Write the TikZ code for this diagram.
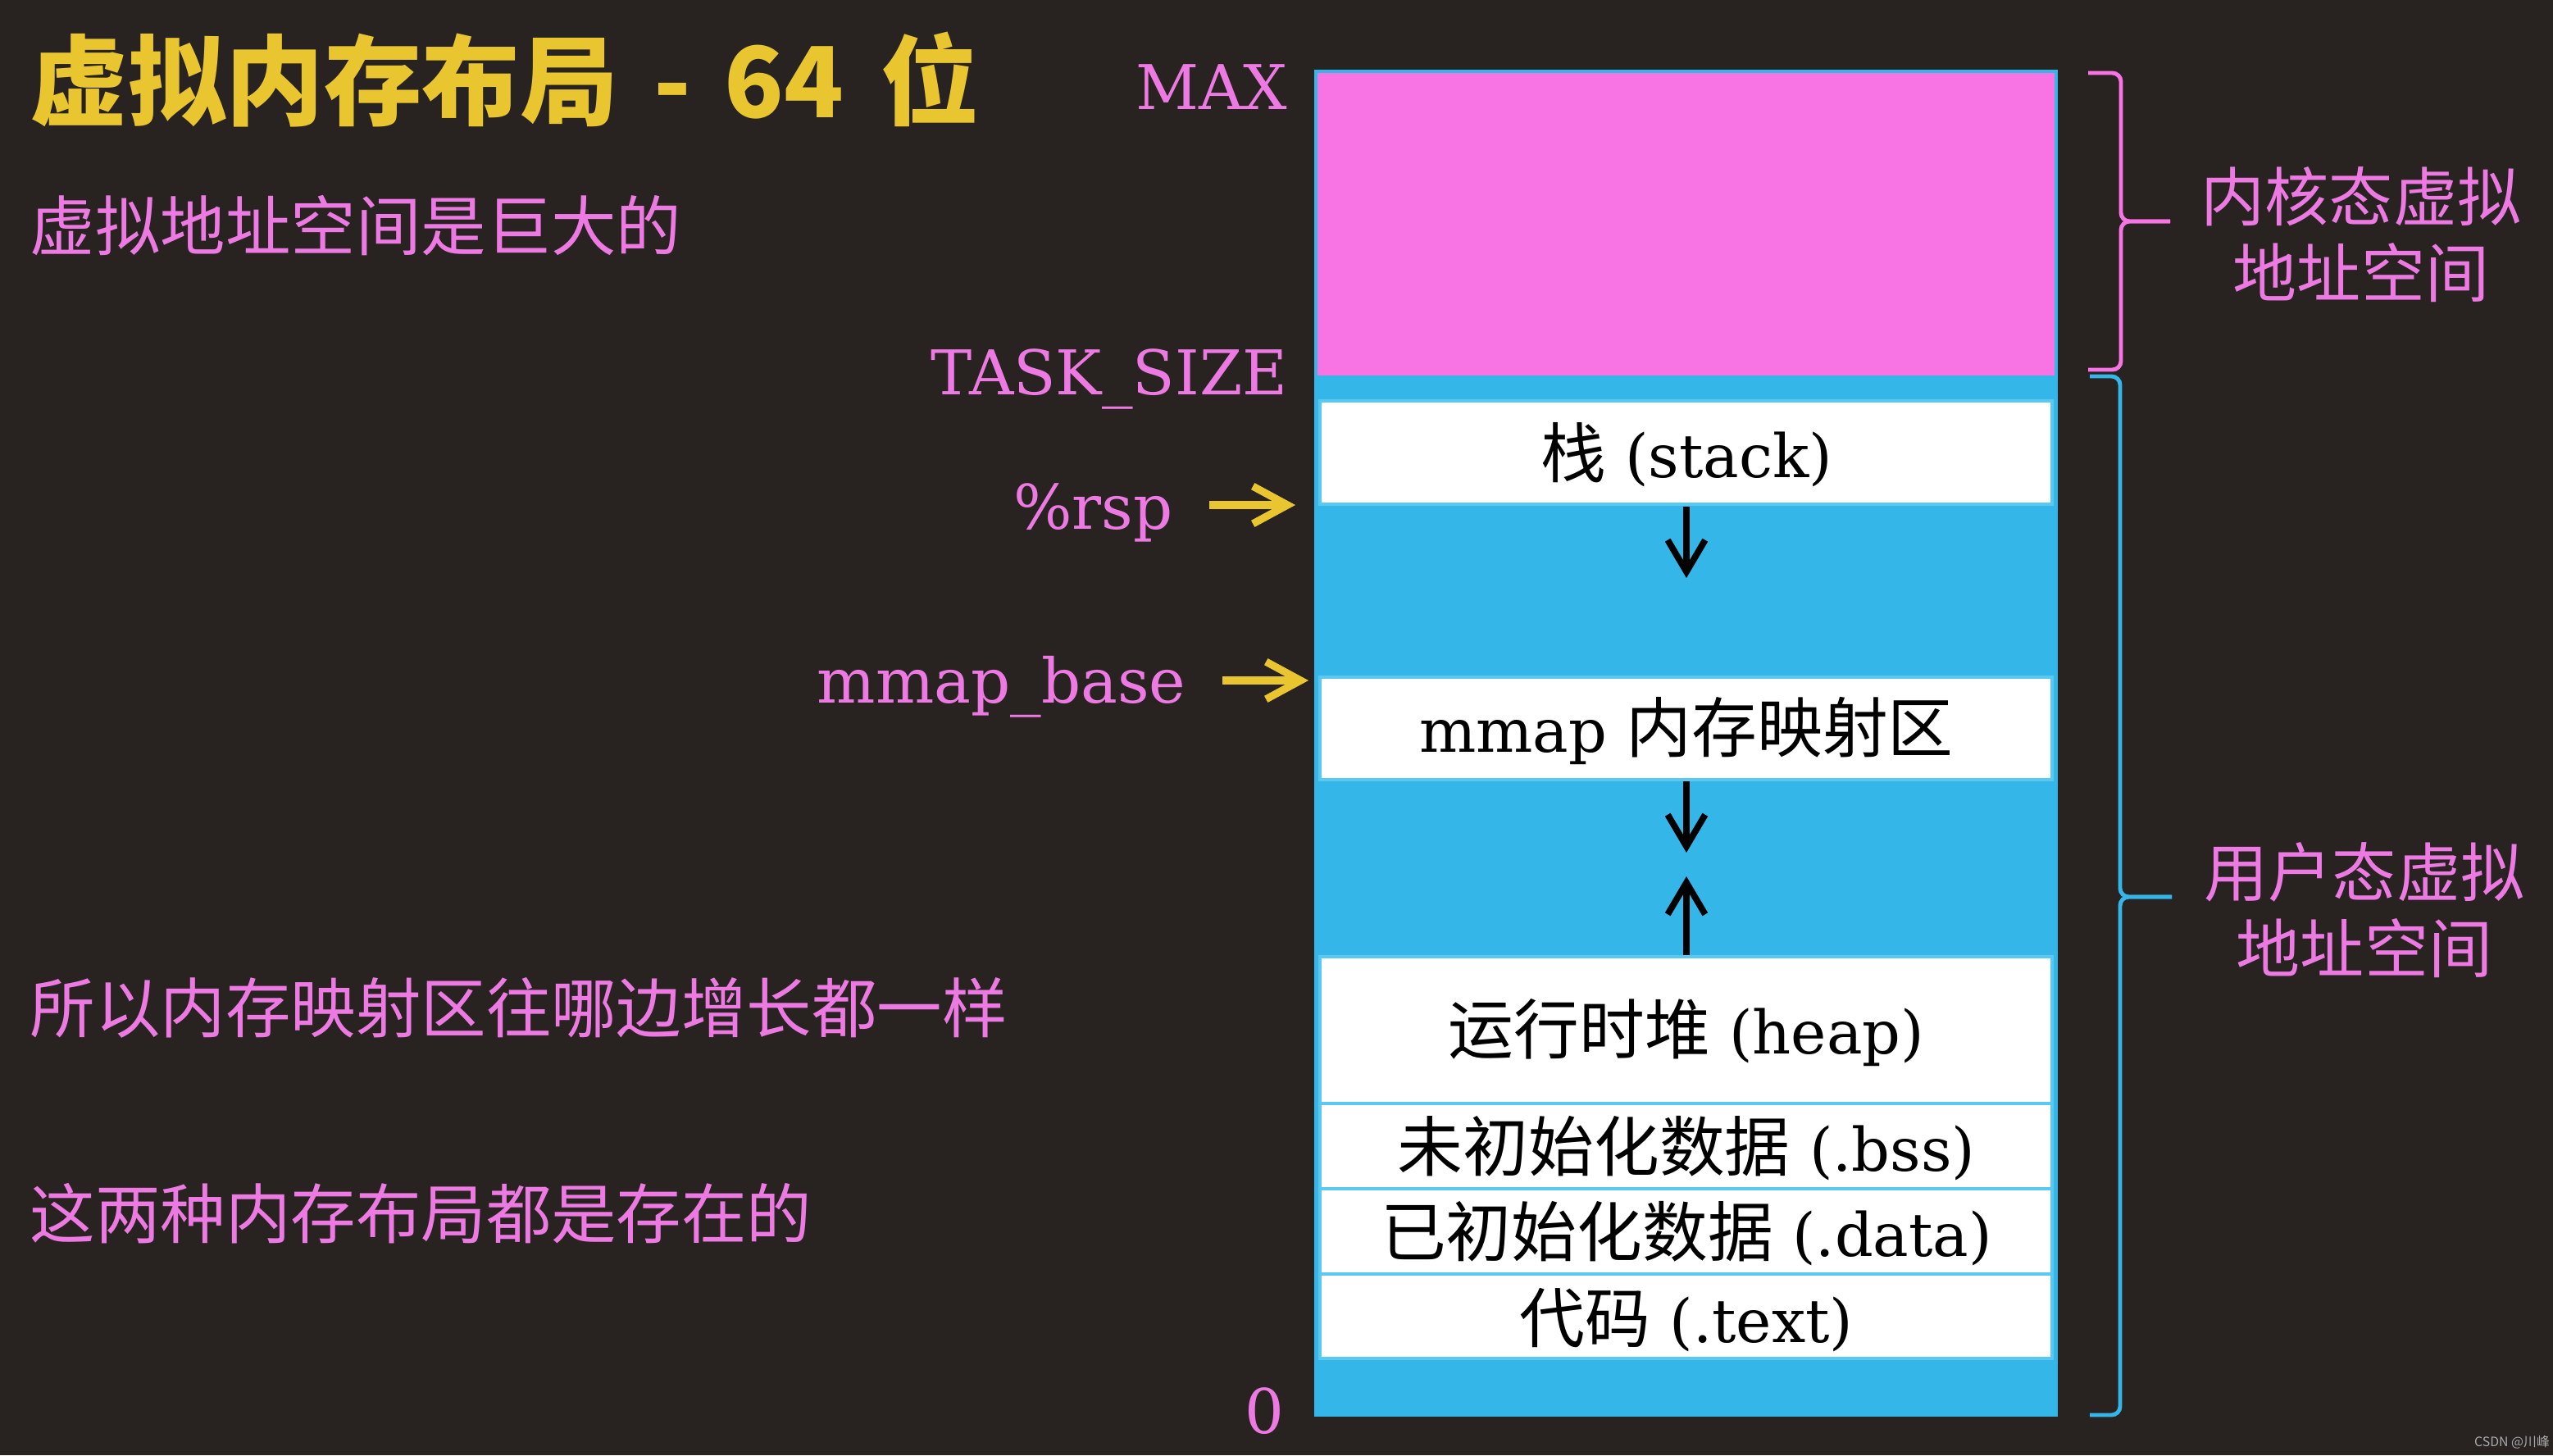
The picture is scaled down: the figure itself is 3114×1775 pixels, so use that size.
\documentclass[tikz,border=0pt]{standalone}
\usepackage{fontspec}
\usetikzlibrary{arrows.meta}
\newfontfamily\cjk{Noto Sans CJK SC}
\newfontfamily\lat{DejaVu Serif}
\definecolor{bg}{RGB}{40,35,32}
\definecolor{kpink}{RGB}{248,116,228}
\definecolor{ublue}{RGB}{52,182,232}
\definecolor{lineblue}{RGB}{90,200,240}
\definecolor{ptext}{RGB}{236,122,226}
\definecolor{ytitle}{RGB}{233,198,48}
\definecolor{wm}{RGB}{170,170,170}
\newcommand{\zh}[1]{{\cjk\fontsize{22.7}{26}\selectfont #1}}
\tikzset{
  boxlab/.style={inner sep=0pt, text=black, font=\lat\fontsize{20.8}{26}\selectfont},
  addr/.style={inner sep=0pt, text=ptext, font=\lat\fontsize{21.4}{26}\selectfont},
  note/.style={inner sep=0pt, anchor=west, text=ptext, font=\cjk\fontsize{22.6}{27}\selectfont},
  side/.style={inner sep=0pt, align=center, text=ptext, font=\cjk\fontsize{22.2}{26.6}\selectfont},
  blackarrow/.style={draw=black, line width=2.2pt, -{Straight Barb[length=11pt,width=13pt]}},
  yarrow/.style={draw=ytitle, line width=2.6pt, -{Straight Barb[length=12pt,width=13pt]}},
  brace/.style={line width=1.4pt, rounded corners=3pt},
  whitesec/.style={fill=white, draw=lineblue, line width=1.2pt}
}
\begin{document}
\begin{tikzpicture}[x=0.01cm,y=-0.01cm]
\useasboundingbox (0,0) rectangle (3114,1775);
\fill[bg] (0,0) rectangle (3114,1775);

% title and notes
\node[inner sep=0pt, anchor=west, text=ytitle, font=\cjk\bfseries\fontsize{34}{40}\selectfont] (title) at (36,97) {虚拟内存布局\hspace{0.36em}-\hspace{0.34em}64\hspace{0.38em}位};
\node[note] (sub) at (36,275) {虚拟地址空间是巨大的};
\node[note] (n1) at (36,1229) {所以内存映射区往哪边增长都一样};
\node[note] (n2) at (36,1480) {这两种内存布局都是存在的};

% memory column
\fill[kpink] (1605,87) rectangle (2508,458);
\fill[ublue] (1605,458) rectangle (2508,1726);
\draw[whitesec] (1610,489) rectangle (2503,615);
\draw[whitesec] (1610,826) rectangle (2503,951);
\draw[whitesec] (1610,1167) rectangle (2503,1346);
\draw[whitesec] (1610,1346) rectangle (2503,1450);
\draw[whitesec] (1610,1450) rectangle (2503,1554);
\draw[whitesec] (1610,1554) rectangle (2503,1657);
\draw[ublue, line width=1pt] (1605,87) rectangle (2508,1726);

\node[boxlab] (stack) at (2057,555) {\zh{栈} (stack)};
\node[boxlab] (mmap) at (2057,892) {mmap \zh{内存映射区}};
\node[boxlab] (heap) at (2057,1260) {\zh{运行时堆} (heap)};
\node[boxlab] (bss) at (2057,1401) {\zh{未初始化数据} (.bss)};
\node[boxlab] (data) at (2057,1505) {\zh{已初始化数据} (.data)};
\node[boxlab] (text) at (2057,1610) {\zh{代码} (.text)};

% growth arrows
\coordinate (sA) at (2057,618); \coordinate (sB) at (2057,705);
\coordinate (mA) at (2057,953); \coordinate (mB) at (2057,1040);
\coordinate (hA) at (2057,1165); \coordinate (hB) at (2057,1069);
\draw[blackarrow] (sA) -- (sB);
\draw[blackarrow] (mA) -- (mB);
\draw[blackarrow] (hA) -- (hB);

% address labels
\node[addr, anchor=base east] (max) at (1571,133) {MAX};
\node[addr, anchor=base east] (task) at (1571,481) {TASK\_SIZE};
\node[addr, anchor=base east] (rsp) at (1431,645) {\%rsp};
\node[addr, anchor=base east] (mbase) at (1447,857) {mmap\_base};
\node[addr, anchor=base east] (zero) at (1567,1748) {0};

\coordinate (rA) at (1475,616); \coordinate (rB) at (1580,616);
\coordinate (bA) at (1491,830); \coordinate (bB) at (1596,830);
\draw[yarrow] (rA) -- (rB);
\draw[yarrow] (bA) -- (bB);

% braces
\draw[brace, kpink] (2547,89) -| (2587,270) -- (2647,270);
\draw[brace, kpink] (2647,270) -- (2587,270) |- (2547,451);
\draw[brace, ublue] (2549,459) -| (2586,1094) -- (2649,1094);
\draw[brace, ublue] (2649,1094) -- (2586,1094) |- (2549,1726);

\node[side] (klab) at (2880,286) {内核态虚拟\\地址空间};
\node[side] (ulab) at (2884,1110) {用户态虚拟\\地址空间};

% watermark
\node[inner sep=0pt, text=wm, font=\cjk\fontsize{4.5}{5}\selectfont] (wmark) at (3064,1759) {CSDN @川峰};
\end{tikzpicture}
\end{document}
